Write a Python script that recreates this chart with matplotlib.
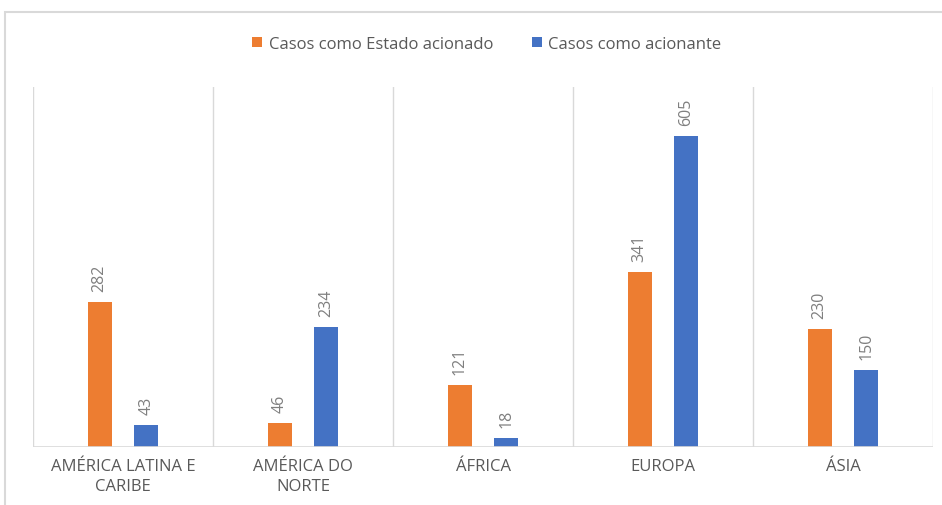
import numpy as np
import matplotlib
matplotlib.use('Agg')
import matplotlib.pyplot as plt
from matplotlib.patches import Rectangle

# ---------- données ----------
categorias = ['AMÉRICA LATINA E\nCARIBE', 'AMÉRICA DO\nNORTE', 'ÁFRICA', 'EUROPA', 'ÁSIA']
acionado = [282, 46, 121, 341, 230]
acionante = [43, 234, 18, 605, 150]
series = ['Casos como Estado acionado', 'Casos como acionante']

LARANJA = '#ED7D31'
AZUL = '#4472C4'
CINZA = '#7f7f7f'
GRADE = '#d9d9d9'

plt.rcParams['font.family'] = ['Open Sans', 'DejaVu Sans']

fig = plt.figure(figsize=(9.42, 5.06), dpi=100)
W, H = 942, 506
# cadre du graphique (coupé à droite / en bas)
fig.patches.append(Rectangle((5 / W, -0.01), 1.0, 1 - 13 / H + 0.01, transform=fig.transFigure,
                             fill=False, edgecolor=GRADE, linewidth=1.5))

ax = fig.add_axes([33 / W, 1 - 448 / H, 900 / W, 360 / H])
x = np.arange(len(categorias))
bw, off = 0.133, 0.13
b1 = ax.bar(x - off, acionado, bw, color=LARANJA, label=series[0], zorder=3)
b2 = ax.bar(x + off, acionante, bw, color=AZUL, label=series[1], zorder=3)

for bars in (b1, b2):
    for r in bars:
        ax.annotate(f'{int(r.get_height())}', (r.get_x() + r.get_width() / 2, r.get_height()),
                    xytext=(0, 8), textcoords='offset points', rotation=90,
                    ha='center', va='bottom', color=CINZA, fontsize=11.5)

ax.set_xlim(-0.5, len(categorias) - 0.5)
ax.set_ylim(0, 700)
for xv in np.arange(-0.5, len(categorias), 1.0):
    ax.axvline(xv, color=GRADE, linewidth=1, zorder=1)
for s in ax.spines.values():
    s.set_visible(False)
ax.axhline(0, color=GRADE, linewidth=1.2, zorder=4)
ax.set_yticks([])
ax.set_xticks(x)
ax.set_xticklabels(categorias, color='#595959', fontsize=12, linespacing=1.35)
ax.tick_params(axis='x', length=0, pad=8)

leg = fig.legend(loc='center', bbox_to_anchor=(487 / W, 1 - 45 / H), ncol=2, frameon=False,
                 fontsize=12, handlelength=0.6, handleheight=0.6, columnspacing=2.3,
                 handletextpad=0.4)
for t in leg.get_texts():
    t.set_color('#595959')

fig.savefig('out.png', dpi=100)
